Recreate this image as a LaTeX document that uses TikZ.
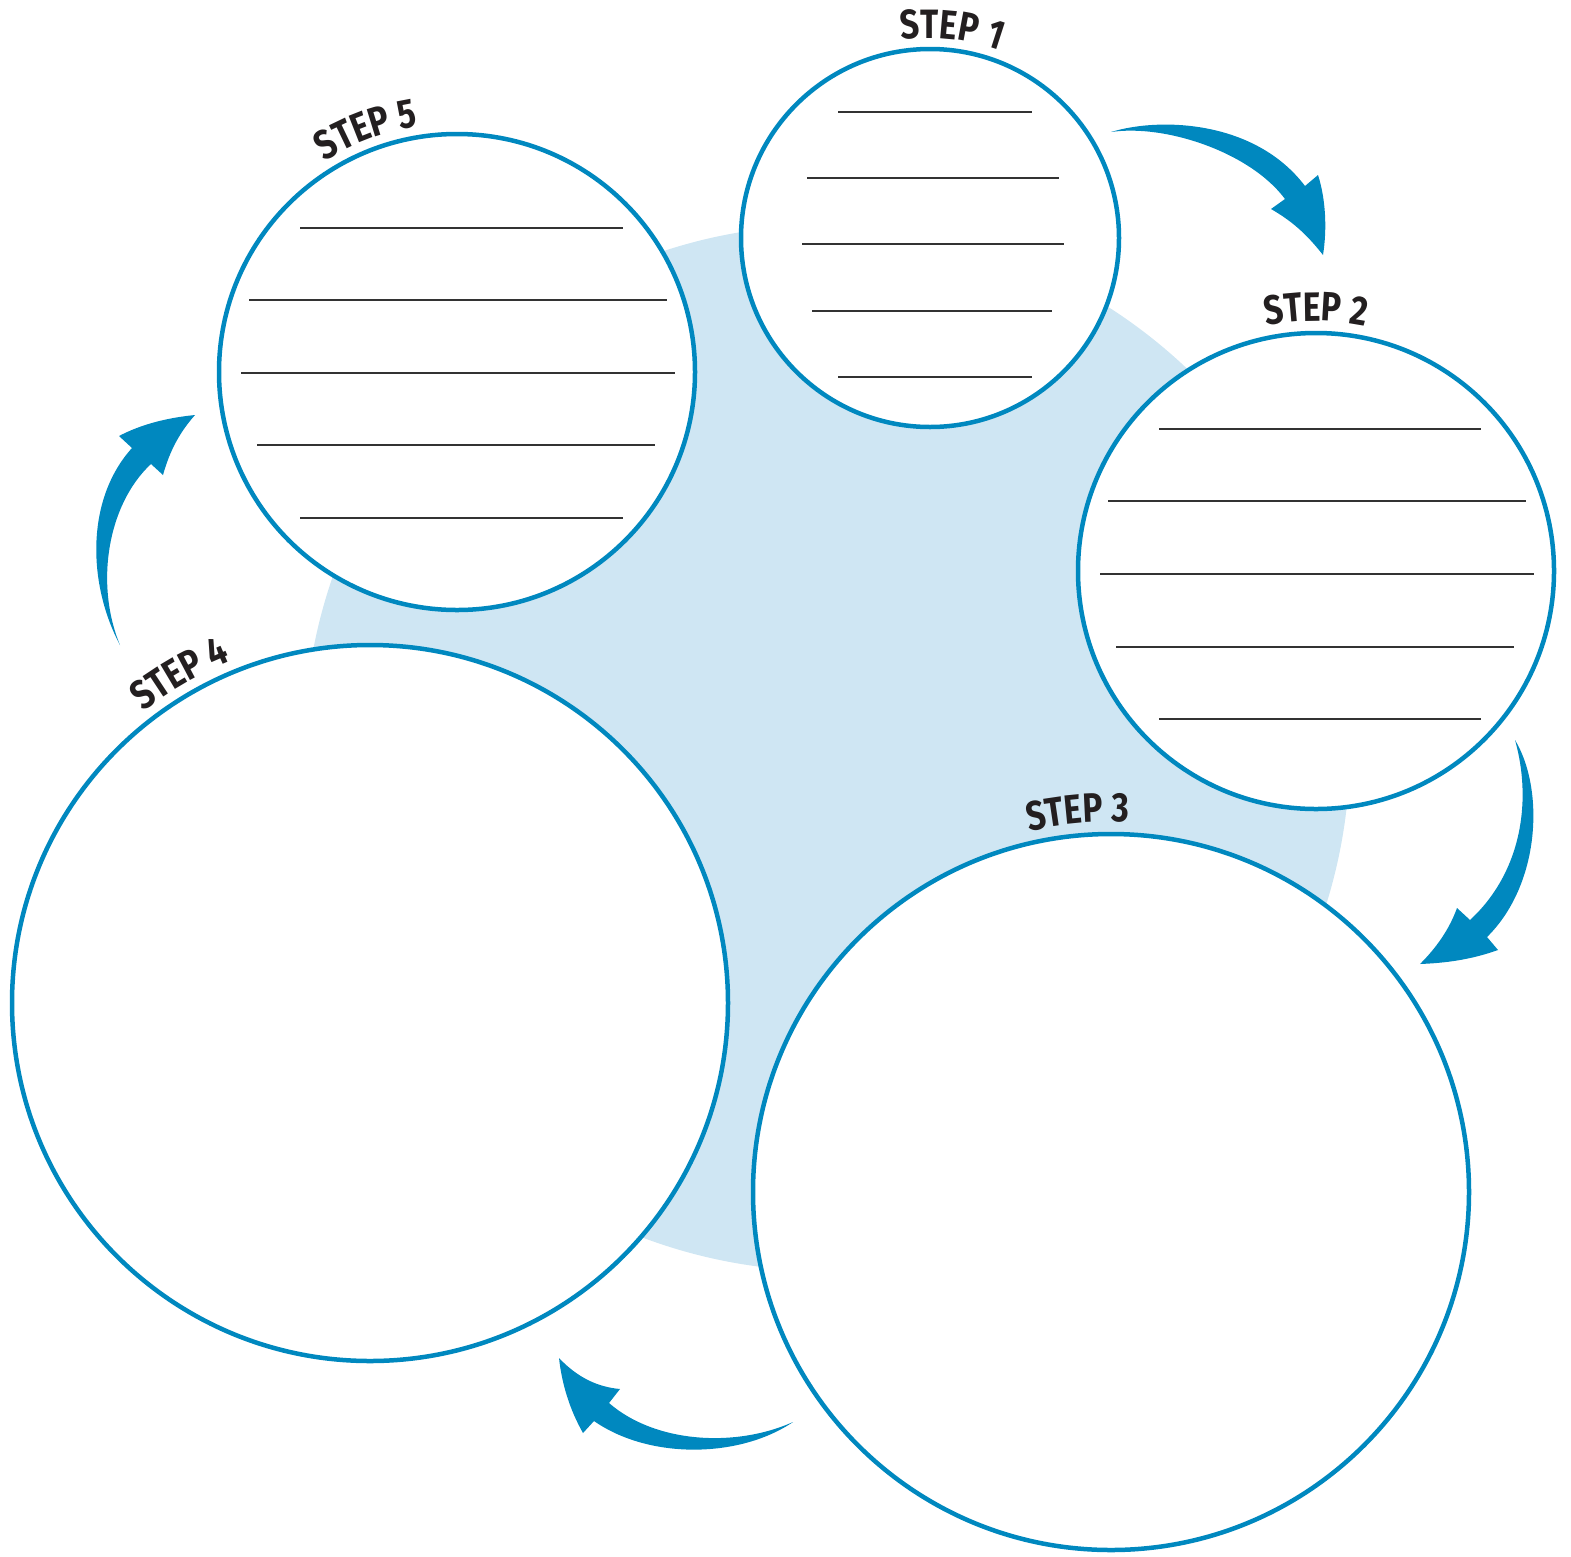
\documentclass[tikz,border=0pt]{standalone}
\usepackage{fontspec}
\newfontfamily\stepfont{Fira Sans}[FakeStretch=0.82]
\usetikzlibrary{decorations.text}
\definecolor{stepblue}{HTML}{0088BF}
\definecolor{bgblue}{HTML}{CFE6F3}
\definecolor{labelink}{HTML}{231F20}
\definecolor{lineink}{HTML}{333333}
\begin{document}
\begin{tikzpicture}[x=1pt,y=1pt,
  stepcircle/.style={circle, draw=stepblue, line width=4.5pt, fill=white, inner sep=0pt, outer sep=0pt},
  writeline/.style={draw=lineink, line width=1.4pt},
  flowarrow/.style={fill=stepblue},
  steplabel/.style={decorate, decoration={text along path, text align=center,
      text={|\color{labelink}\stepfont\bfseries\fontsize{41}{44}\selectfont|#1}}}
]
\useasboundingbox (0,0) rectangle (1571,-1556);
% background disc
\fill[bgblue] (827,-748) circle (523);

% step circles
\node[stepcircle, minimum size=378pt] (s1) at (930,-238) {};
\node[stepcircle, minimum size=476pt] (s2) at (1316,-571) {};
\node[stepcircle, minimum size=716pt] (s3) at (1111,-1192) {};
\node[stepcircle, minimum size=716pt] (s4) at (370,-1003) {};
\node[stepcircle, minimum size=476pt] (s5) at (457,-372) {};

% writing lines
\draw[writeline] (838,-112) -- (1032,-112);
\draw[writeline] (807,-178) -- (1059,-178);
\draw[writeline] (802,-244) -- (1064,-244);
\draw[writeline] (812,-311) -- (1052,-311);
\draw[writeline] (838,-377) -- (1032,-377);

\draw[writeline] (1159,-429) -- (1481,-429);
\draw[writeline] (1108,-501) -- (1526,-501);
\draw[writeline] (1100,-574) -- (1534,-574);
\draw[writeline] (1116,-647) -- (1514,-647);
\draw[writeline] (1159,-719) -- (1481,-719);

\draw[writeline] (300,-228) -- (623,-228);
\draw[writeline] (249,-300) -- (667,-300);
\draw[writeline] (241,-373) -- (675,-373);
\draw[writeline] (257,-445) -- (655,-445);
\draw[writeline] (300,-518) -- (623,-518);

% labels
\path[steplabel={STEP 1}] ([shift={(114:200)}]s1.center) arc[start angle=114, end angle=54, radius=200];
\path[steplabel={STEP 2}] ([shift={(115:250)}]s2.center) arc[start angle=115, end angle=65, radius=250];
\path[steplabel={STEP 3}] ([shift={(115:370)}]s3.center) arc[start angle=115, end angle=75, radius=370];
\path[steplabel={STEP 4}] ([shift={(140:369)}]s4.center) arc[start angle=140, end angle=100, radius=369];
\path[steplabel={STEP 5}] ([shift={(135:249)}]s5.center) arc[start angle=135, end angle=86, radius=249];

% arrows
\fill[flowarrow] (1111,-132) .. controls (1160,-117) and (1255,-120) .. (1305,-186)
  -- (1318,-175) .. controls (1326,-200) and (1327,-230) .. (1323,-255)
  .. controls (1305,-232) and (1290,-220) .. (1271,-209) -- (1285,-199)
  .. controls (1250,-152) and (1165,-124) .. (1111,-132) -- cycle;
\fill[flowarrow] (1515,-740) .. controls (1545,-790) and (1540,-885) .. (1487,-937)
  -- (1498,-950) .. controls (1470,-960) and (1445,-963) .. (1420,-964)
  .. controls (1436,-948) and (1449,-930) .. (1457,-908) -- (1470,-920)
  .. controls (1522,-872) and (1532,-800) .. (1515,-740) -- cycle;
\fill[flowarrow] (793,-1422) .. controls (740,-1458) and (650,-1460) .. (594,-1421)
  -- (583,-1433) .. controls (570,-1410) and (562,-1385) .. (559,-1358)
  .. controls (578,-1378) and (598,-1387) .. (620,-1389) -- (609,-1403)
  .. controls (655,-1443) and (735,-1448) .. (793,-1422) -- cycle;
\fill[flowarrow] (120,-645) .. controls (88,-585) and (85,-500) .. (132,-448)
  -- (119,-436) .. controls (140,-425) and (165,-418) .. (195,-415)
  .. controls (180,-432) and (170,-450) .. (163,-475) -- (151,-464)
  .. controls (107,-505) and (95,-585) .. (120,-645) -- cycle;
\end{tikzpicture}
\end{document}
